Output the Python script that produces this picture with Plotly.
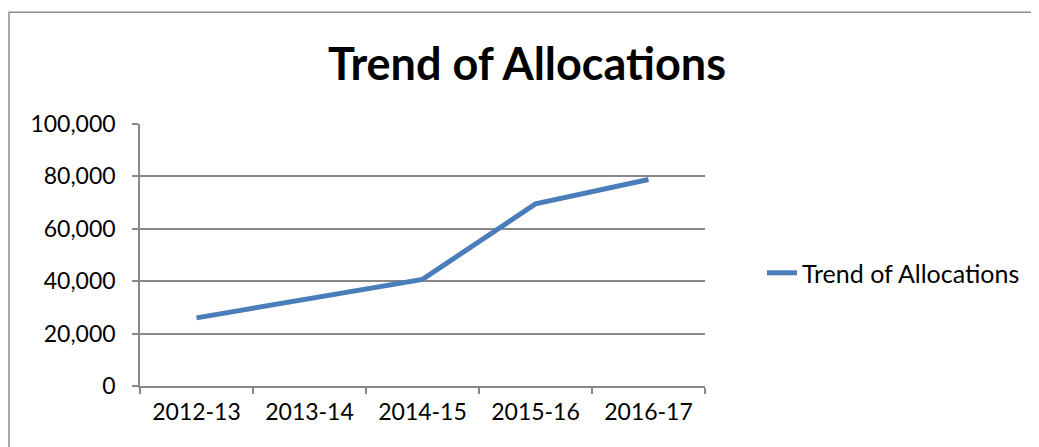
import plotly.graph_objects as go

categories = ["2012-13", "2013-14", "2014-15", "2015-16", "2016-17"]
allocations = [26000, 33300, 40700, 69500, 78800]
y_ticks = [0, 20000, 40000, 60000, 80000, 100000]
y_tick_labels = ["0", "20,000", "40,000", "60,000", "80,000", "100,000"]

# page has an 8px body margin, so the figure is drawn 8px smaller and offset
OFF = 8
W, H = 1039 - OFF, 447 - OFF
X0, X1, Y0, Y1 = 140 - OFF, 705 - OFF, 123.5 - OFF, 386.3 - OFF  # plot area (figure px)
L, R, T, B = X0, W - X1, Y0, H - Y1
pw, ph = X1 - X0, Y1 - Y0

FONT = "Lato"
GRID = "#888888"

fig = go.Figure()
fig.add_trace(go.Scatter(
    x=categories, y=allocations, mode="lines", name="Trend of Allocations",
    line=dict(color="#4A7EBB", width=5),
))

fig.update_layout(
    width=W, height=H,
    margin=dict(l=L, r=R, t=T, b=B),
    paper_bgcolor="white", plot_bgcolor="white",
    title=dict(text="<b>Trend of Allocations</b>", x=(527 - OFF - X0) / pw, xref="paper", xanchor="center",
               y=1 - (64 - OFF) / H, yanchor="middle", font=dict(family=FONT, size=45, color="black")),
    showlegend=True,
    legend=dict(x=(762 - OFF - X0) / pw, xanchor="left", y=(Y1 - (273 - OFF)) / ph, yanchor="middle",
                font=dict(family=FONT, size=25, color="black"), bgcolor="rgba(0,0,0,0)"),
    font=dict(family=FONT, color="black"),
)
fig.update_xaxes(
    type="category", range=[-0.5, 4.5], tickson="boundaries", showgrid=False,
    showline=True, linecolor=GRID, linewidth=1.5,
    ticks="outside", ticklen=6, tickcolor=GRID, tickwidth=1.5,
    tickfont=dict(family=FONT, size=23, color="black"), ticklabelstandoff=5,
    fixedrange=True,
)
fig.update_yaxes(
    range=[0, 100000], tickvals=y_ticks, ticktext=y_tick_labels,
    showgrid=True, gridcolor=GRID, gridwidth=1.5,
    showline=True, linecolor=GRID, linewidth=1.5,
    ticks="outside", ticklen=6, tickcolor=GRID, tickwidth=1.5,
    tickfont=dict(family=FONT, size=23, color="black"), ticklabelstandoff=12,
    zeroline=False, fixedrange=True,
)
# outer chart frame
fig.add_shape(type="rect", xref="paper", yref="paper",
              x0=(9 - OFF - X0) / pw, x1=(W + 20 - X0) / pw,
              y0=(Y1 - (H + 20)) / ph, y1=(Y1 - (11.5 - OFF)) / ph,
              line=dict(color="#8c8c8c", width=1.5), fillcolor="rgba(0,0,0,0)", layer="below")

fig.write_html("out.html")
